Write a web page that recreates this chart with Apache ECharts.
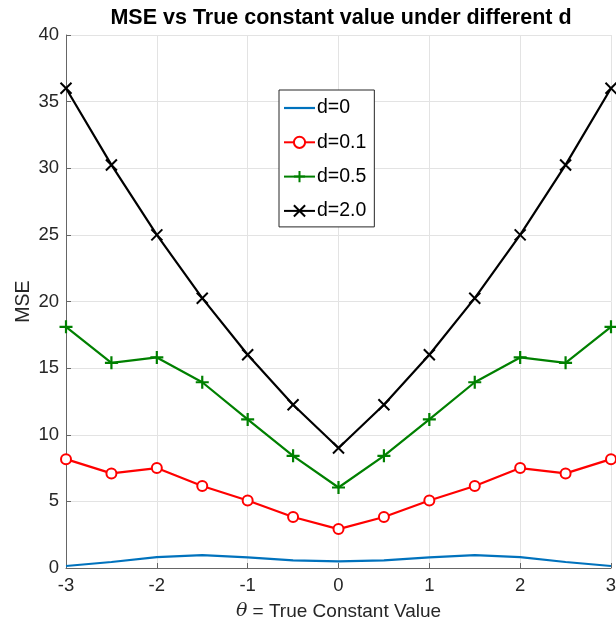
<!DOCTYPE html>
<html>
<head>
<meta charset="utf-8">
<script src="https://cdn.jsdelivr.net/npm/echarts@6/dist/echarts.min.js"></script>
<style>html,body{margin:0;padding:0;background:#fff}#c{width:616px;height:626px}</style>
</head>
<body>
<div id="c"></div>
<script>
const theta = [-3, -2.5, -2, -1.5, -1, -0.5, 0, 0.5, 1, 1.5, 2, 2.5, 3];
const mseD0   = [0.15, 0.45, 0.82, 0.97, 0.80, 0.57, 0.50, 0.57, 0.80, 0.97, 0.82, 0.45, 0.15];
const mseD01  = [8.17, 7.10, 7.50, 6.15, 5.07, 3.83, 2.92, 3.83, 5.07, 6.15, 7.50, 7.10, 8.17];
const mseD05  = [18.1, 15.4, 15.8, 13.94, 11.15, 8.42, 6.04, 8.42, 11.15, 13.94, 15.8, 15.4, 18.1];
const mseD20  = [36, 30.25, 25, 20.25, 16, 12.25, 9, 12.25, 16, 20.25, 25, 30.25, 36];
const seriesNames = ['d=0', 'd=0.1', 'd=0.5', 'd=2.0'];
const xTicks = [-3, -2, -1, 0, 1, 2, 3];
const yTicks = [0, 5, 10, 15, 20, 25, 30, 35, 40];

const pair = arr => theta.map((t, i) => [t, arr[i]]);
const plusPath = 'path://M5,0L5,10M0,5L10,5';
const crossPath = 'path://M0,0L10,10M10,0L0,10';
const font = 'Liberation Sans, Arial, Helvetica, sans-serif';

const chart = echarts.init(document.getElementById('c'), null, {renderer: 'canvas'});
chart.setOption({
  animation: false,
  backgroundColor: '#fff',
  textStyle: {fontFamily: font},
  title: {
    text: 'MSE vs True constant value under different d',
    left: 336, top: 2, textAlign: 'center',
    textStyle: {fontSize: 21.5, fontWeight: 'bold', color: '#000', fontFamily: font}
  },
  grid: {left: 66, right: 5, top: 35, bottom: 58, containLabel: false, outerBoundsMode: 'none'},
  legend: {
    orient: 'vertical', left: 279, top: 90,
    backgroundColor: '#fff', borderColor: '#262626', borderWidth: 1,
    padding: [8, 8, 6, 4],
    itemWidth: 31, itemHeight: 14, itemGap: 14.3,
    textStyle: {fontSize: 19.5, color: '#000', fontFamily: font, padding: [0, 0, 0, -3]},
    data: [
      {name: seriesNames[0], icon: 'path://M0,0L31,0L31,2.2L0,2.2Z'},
      {name: seriesNames[1]},
      {name: seriesNames[2]},
      {name: seriesNames[3]}
    ]
  },
  xAxis: {
    type: 'value', min: -3, max: 3, interval: 1,
    name: '{i|θ} = True Constant Value', nameLocation: 'middle', nameGap: 34,
    nameMoveOverlap: false,
    nameTextStyle: {fontSize: 19, color: '#262626', fontFamily: font,
      rich: {i: {fontSize: 19, fontStyle: 'italic', color: '#262626', fontFamily: 'DejaVu Serif, serif'}}},
    axisLine: {show: true, onZero: false, lineStyle: {color: '#666', width: 1}},
    axisTick: {show: true, inside: true, length: 5, lineStyle: {color: '#666'}},
    axisLabel: {fontSize: 18.5, color: '#262626', margin: 8,
      formatter: v => xTicks.includes(v) ? String(v) : ''},
    splitLine: {show: true, lineStyle: {color: '#e3e3e3', width: 1}}
  },
  yAxis: {
    type: 'value', min: 0, max: 40, interval: 5,
    name: 'MSE', nameLocation: 'middle', nameGap: 32,
    nameMoveOverlap: false,
    nameTextStyle: {fontSize: 19.5, color: '#262626', fontFamily: font},
    axisLine: {show: true, onZero: false, lineStyle: {color: '#666', width: 1}},
    axisTick: {show: true, inside: true, length: 5, lineStyle: {color: '#666'}},
    axisLabel: {fontSize: 18.5, color: '#262626', margin: 7,
      formatter: v => yTicks.includes(v) ? String(v) : ''},
    splitLine: {show: true, lineStyle: {color: '#e3e3e3', width: 1}}
  },
  series: [
    {name: seriesNames[0], type: 'line', data: pair(mseD0), symbol: 'none',
      lineStyle: {color: '#0072BD', width: 2.2}, itemStyle: {color: '#0072BD'}},
    {name: seriesNames[1], type: 'line', data: pair(mseD01), symbol: 'emptyCircle', symbolSize: 10,
      showAllSymbol: true,
      lineStyle: {color: '#FF0000', width: 2.2},
      itemStyle: {color: '#FF0000', borderColor: '#FF0000', borderWidth: 2}},
    {name: seriesNames[2], type: 'line', data: pair(mseD05), symbol: plusPath, symbolSize: 13,
      showAllSymbol: true,
      lineStyle: {color: '#008000', width: 2.2},
      itemStyle: {color: '#008000', borderColor: '#008000', borderWidth: 2.2}},
    {name: seriesNames[3], type: 'line', data: pair(mseD20), symbol: crossPath, symbolSize: 11,
      showAllSymbol: true,
      lineStyle: {color: '#000', width: 2.2},
      itemStyle: {color: '#000', borderColor: '#000', borderWidth: 2}}
  ]
});
</script>
</body>
</html>
